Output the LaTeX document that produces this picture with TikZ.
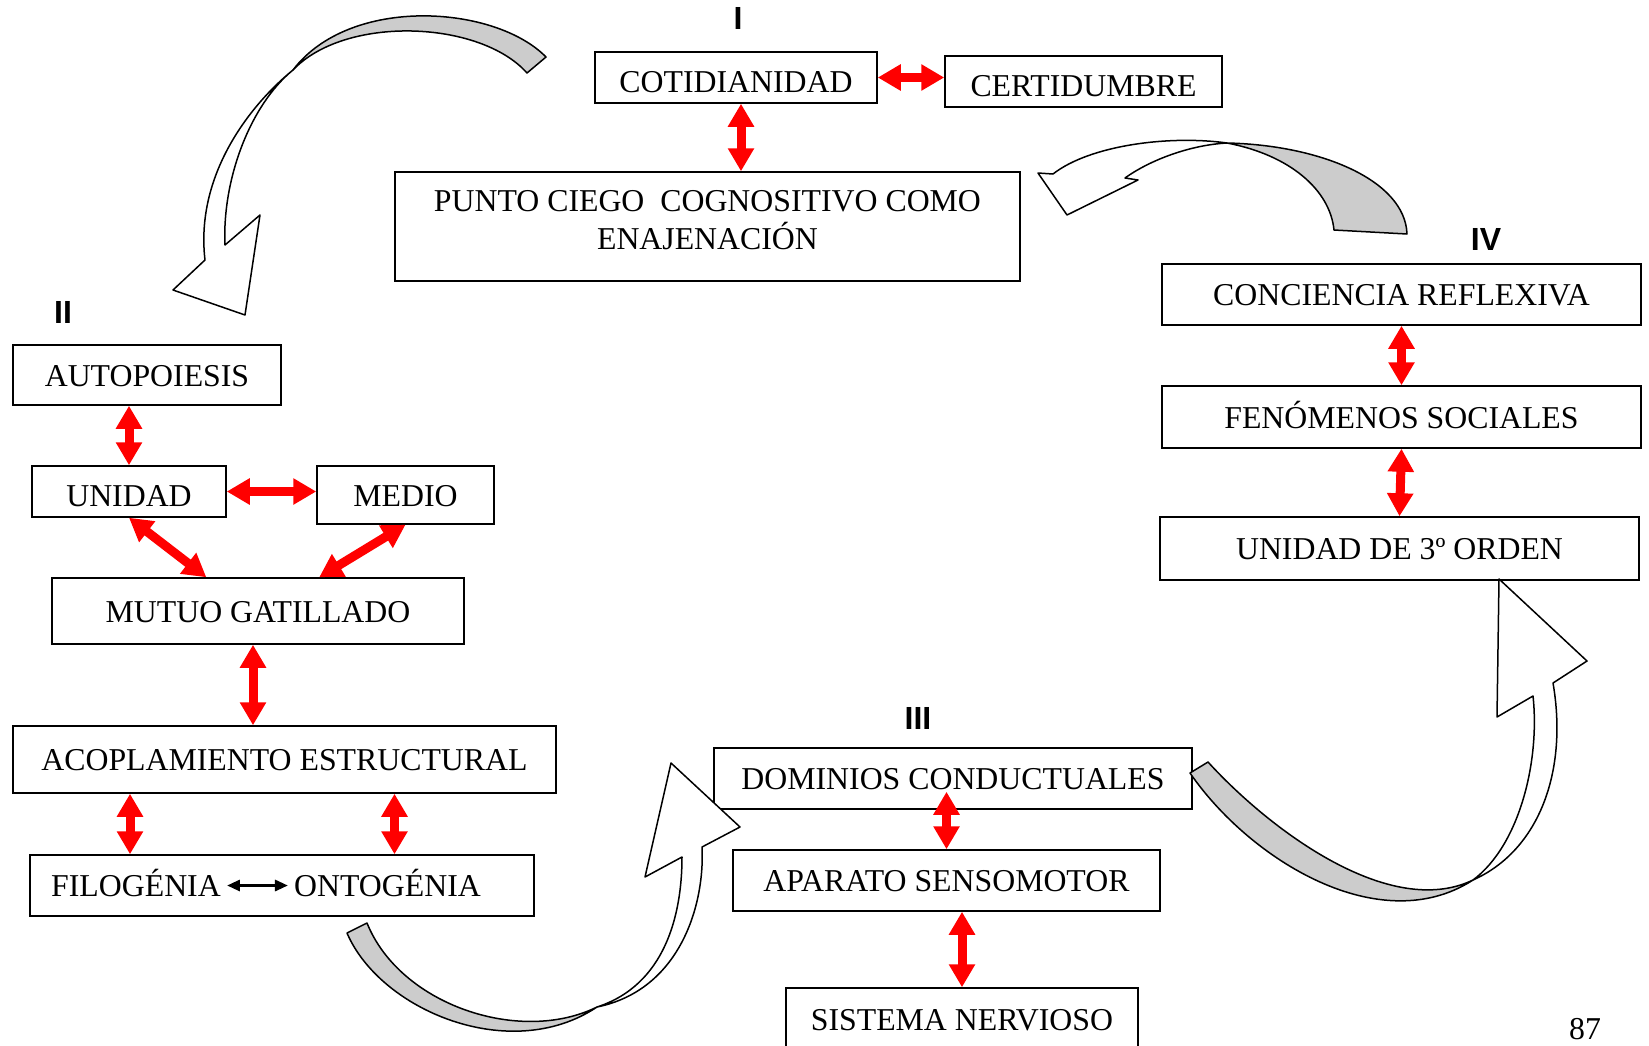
\documentclass[tikz,border=0pt]{standalone}
\usepackage{fontspec}
\setmainfont{Liberation Serif}
\newfontfamily\stagefont{Liberation Sans}
\usetikzlibrary{arrows.meta, calc}

\begin{document}
\begin{tikzpicture}
        [x=1pt, y=-1pt,
        every node/.style={font=\fontsize{31.8}{38}\selectfont},
        frame/.style={draw, line width=1.5pt, inner sep=0pt},
        box/.style={frame, text height=22pt, text depth=0pt},
        lowbox/.style={frame, text height=29pt, text depth=0pt},
        word/.style={inner xsep=6pt, inner ysep=0pt, text height=22pt, text depth=0pt},
        stage/.style={font=\stagefont\bfseries\fontsize{32}{38}\selectfont},
        link/.style={red, line width=9pt, {Triangle[length=23pt,width=25pt]}-{Triangle[length=23pt,width=25pt]}},
        pair/.style={line width=3pt, {Triangle[length=13pt,width=11pt]}-{Triangle[length=13pt,width=11pt]}},
        twist/.style={draw, line width=1.5pt, fill=black!20, line join=round},
        face/.style={draw, line width=1.5pt, fill=white, line join=round}]

    \useasboundingbox (0,0) rectangle (1649,1045);

    % I
    \node[stage] (s1) at (738,18) {I};
    \node[lowbox, minimum width=282pt, minimum height=51pt] (coti) at (736,77.5) {COTIDIANIDAD};
    \node[lowbox, minimum width=277pt, minimum height=51pt] (cert) at (1083.5,81.5) {CERTIDUMBRE};
    \node[frame, align=center, text depth=13pt, minimum width=625pt, minimum height=109pt] (punto) at (707.5,226.5)
      {PUNTO CIEGO\ \ COGNOSITIVO COMO\\ENAJENACIÓN};

    % II
    \node[stage] (s2) at (63,312) {II};
    \node[box, minimum width=268pt, minimum height=60pt] (auto) at (147,375) {AUTOPOIESIS};
    \node[lowbox, minimum width=194pt, minimum height=51pt] (unidad) at (129,491.5) {UNIDAD};
    \node[box, minimum width=177pt, minimum height=58pt] (medio) at (405.5,495) {MEDIO};
    \node[box, minimum width=412pt, minimum height=66pt] (mutuo) at (258,611) {MUTUO GATILLADO};
    \node[box, minimum width=543pt, minimum height=67pt] (acopl) at (284.5,759.5) {ACOPLAMIENTO ESTRUCTURAL};
    \node[box, minimum width=504pt, minimum height=61pt] (filont) at (282,885.5) {};
    \node[word] (filo) at (136,885.5) {FILOGÉNIA};
    \node[word] (onto) at (387.5,885.5) {ONTOGÉNIA};

    % III
    \node[stage] (s3) at (918,718) {III};
    \node[box, minimum width=478pt, minimum height=61pt] (dominios) at (953,778.5) {DOMINIOS CONDUCTUALES};
    \node[box, minimum width=427pt, minimum height=61pt] (aparato) at (946.5,880.5) {APARATO SENSOMOTOR};
    \node[box, minimum width=352pt, minimum height=62pt] (sistema) at (962,1019) {SISTEMA NERVIOSO};

    % IV
    \node[stage] (s4) at (1486,239) {IV};
    \node[box, minimum width=479pt, minimum height=61pt] (conciencia) at (1401.5,294.5) {CONCIENCIA REFLEXIVA};
    \node[box, minimum width=479pt, minimum height=62pt] (fenomenos) at (1401.5,417) {FENÓMENOS SOCIALES};
    \node[box, minimum width=479pt, minimum height=63pt] (unidad3) at (1399.5,548.5) {UNIDAD DE 3º ORDEN};

    \node (page) at (1585,1029) {87};

    \draw[link] (coti.east) -- (coti.east -| cert.west);
    \draw[link] ($(coti.south)+(5,0)$) -- ($(coti.south |- punto.north)+(5,0)$);
    \draw[link] (unidad.north |- auto.south) -- (unidad.north);
    \draw[link] (unidad.east) -- (unidad.east -| medio.west);
    \draw[link] (unidad.south) -- ($(mutuo.north west)!0.375!(mutuo.north east)$);
    \draw[link] (medio.south) -- ($(mutuo.north west)!0.648!(mutuo.north east)$);
    \draw[link] ($(mutuo.south)+(-5,0)$) -- ($(mutuo.south |- acopl.north)+(-5,0)$);
    \draw[link] ($(filo.north |- acopl.south)+(-6,0)$) -- ($(filo.north |- filont.north)+(-6,0)$);
    \draw[link] ($(onto.north |- acopl.south)+(7,0)$) -- ($(onto.north |- filont.north)+(7,0)$);
    \draw[pair] (filo) -- (onto);
    \draw[link] ($(aparato.north |- dominios.south)+(0,-18)$) -- (aparato.north);
    \draw[link] (sistema.north |- aparato.south) -- (sistema.north);
    \draw[link] (conciencia.south) -- (fenomenos.north);
    \draw[link] (fenomenos.south) -- (unidad3.north);

    % I -> II
    \filldraw[twist] (546,57) .. controls (495,5) and (350,-5) .. (293,70)
      .. controls (345,15) and (480,20) .. (527,73) -- cycle;
    \filldraw[face] (293,70) .. controls (250,105) and (195,175) .. (205,260)
      -- (173,290) -- (245,315) -- (260,215) -- (225,245)
      .. controls (222,180) and (250,105) .. (293,70) -- cycle;

    % II -> III
    \filldraw[twist] (347,933) .. controls (380,1010) and (510,1065) .. (597,1007)
      .. controls (520,1045) and (400,1005) .. (367,923) -- cycle;
    \filldraw[face] (597,1007) .. controls (680,990) and (705,905) .. (702,847)
      -- (740,827) -- (671,763) -- (645,877) -- (682,857)
      .. controls (682,915) and (665,985) .. (597,1007) -- cycle;

    % III -> IV
    \filldraw[twist] (1190,773) .. controls (1250,860) and (1380,940) .. (1473,880)
      .. controls (1390,920) and (1270,830) .. (1208,762) -- cycle;
    \filldraw[face] (1473,880) .. controls (1540,850) and (1568,770) .. (1553,683)
      -- (1587,661) -- (1499,579) -- (1497,717) -- (1533,696)
      .. controls (1540,760) and (1520,845) .. (1473,880) -- cycle;

    % IV -> I
    \filldraw[twist] (1227,143) .. controls (1320,145) and (1405,180) .. (1407,234)
      -- (1334,230) .. controls (1330,190) and (1290,155) .. (1227,143) -- cycle;
    \filldraw[face] (1227,143) .. controls (1170,135) and (1090,145) .. (1053,174)
      -- (1038,173) -- (1067,215) -- (1138,180) -- (1125,178)
      .. controls (1150,160) and (1190,145) .. (1227,143) -- cycle;
\end{tikzpicture}
\end{document}
